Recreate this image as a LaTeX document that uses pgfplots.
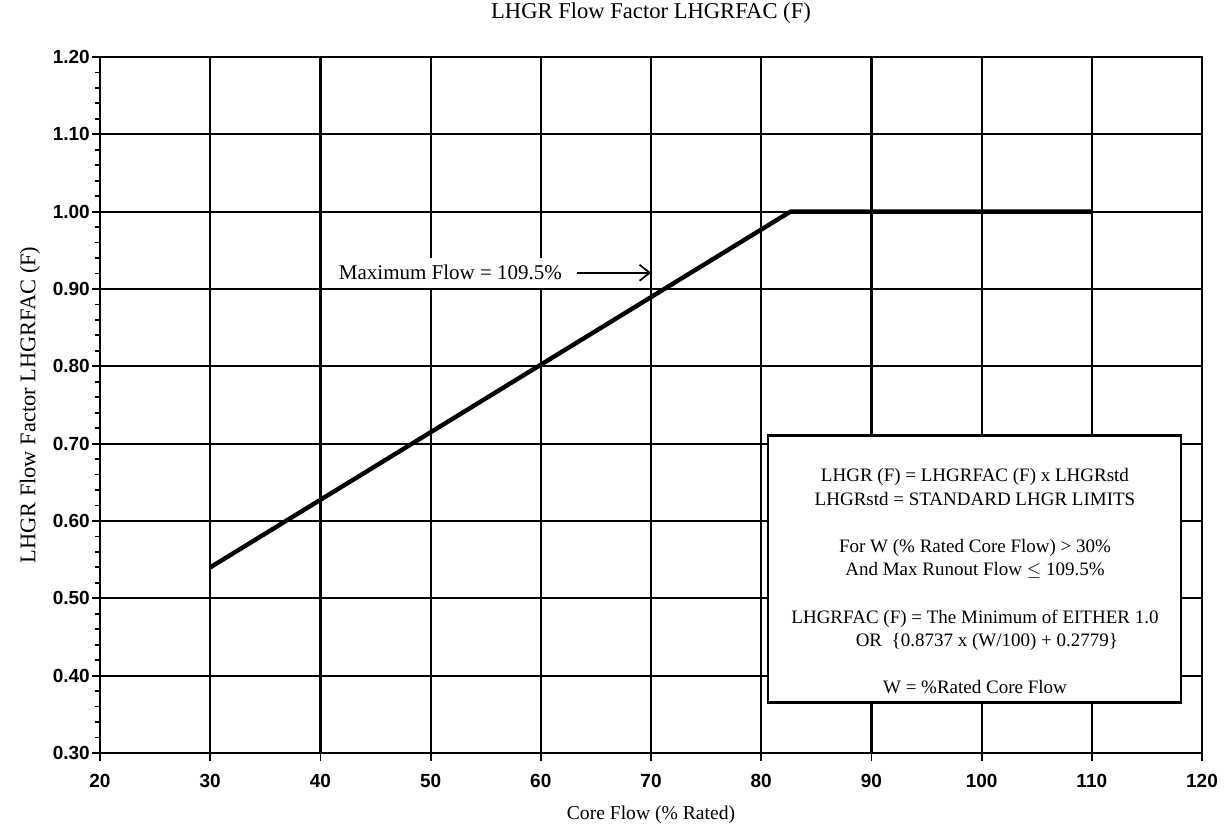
\documentclass[border=0pt]{standalone}
\usepackage{pgfplots}
\pgfplotsset{compat=1.18}
\usepackage{fontspec}
\setmainfont{Liberation Serif}
\setsansfont{Liberation Sans}
\usetikzlibrary{arrows.meta}
\begin{document}
\begin{tikzpicture}
\begin{axis}[
  scale only axis,
  width=551pt, height=348pt,
  xmin=20, xmax=120, ymin=0.30, ymax=1.20,
  xtick={20,30,...,120},
  ytick={0.3,0.4,...,1.21},
  minor y tick num=4,
  xtick pos=bottom, ytick pos=left,
  tick align=outside,
  major tick length=4pt, minor tick length=2.5pt,
  every tick/.style={black, line width=0.9pt},
  grid=major,
  major grid style={black, line width=1.1pt},
  axis line style={black, line width=1.4pt},
  /pgf/number format/assume math mode=true,
  ticklabel style={font=\sffamily\bfseries\fontsize{9.5}{11}\selectfont},
  yticklabel style={xshift=2.4pt, /pgf/number format/.cd, fixed, fixed zerofill, precision=2},
  xticklabel style={yshift=-3pt},
  xlabel={Core Flow (\% Rated)},
  ylabel={LHGR Flow Factor LHGRFAC (F)},
  xlabel style={font=\fontsize{9.8}{12}\selectfont, at={(axis description cs:0.5,0)}, anchor=center, yshift=-31pt},
  ylabel style={font=\fontsize{11.2}{13}\selectfont, at={(axis description cs:0,0.5)}, anchor=center, yshift=35pt},
  title={LHGR Flow Factor LHGRFAC (F)},
  title style={font=\fontsize{11.3}{13}\selectfont, at={(axis description cs:0.5,1)}, anchor=center, yshift=16pt},
  clip=false,
]
\addplot[black, line width=2.2pt] coordinates {(30,0.540) (82.65,1.000) (110,1.000)};
\draw[line width=1.4pt, fill=white] (axis cs:80.62,0.365) rectangle (axis cs:118.1,0.711);
\node[align=center, font=\fontsize{9.5}{11.8}\selectfont] at (axis cs:99.4,0.522) {%
LHGR (F) = LHGRFAC (F) x LHGRstd\\
LHGRstd = STANDARD LHGR LIMITS\\
\mbox{}\\
For W (\% Rated Core Flow) > 30\%\\
And Max Runout Flow $\leq$ 109.5\%\\
\mbox{}\\
LHGRFAC (F) = The Minimum of EITHER 1.0\\
\quad\ OR \ \{0.8737 x (W/100) + 0.2779\}\\
\mbox{}\\
W = \%Rated Core Flow};
\node[font=\fontsize{10.5}{12}\selectfont, fill=white, inner xsep=2pt, inner ysep=0pt, minimum height=15pt] at (axis cs:51.8,0.921) {Maximum Flow = 109.5\%};
\draw[-{Straight Barb[length=5pt,width=8pt]}, line width=0.9pt] (axis cs:63.3,0.921) -- (axis cs:70,0.921);
\end{axis}
\pgfresetboundingbox
\path (current axis.south west) ++(-50pt,-39pt) coordinate (bl);
\path (current axis.north east) ++(11pt,28.5pt) coordinate (tr);
\path[use as bounding box] (bl) rectangle (tr);
\end{tikzpicture}
\end{document}
